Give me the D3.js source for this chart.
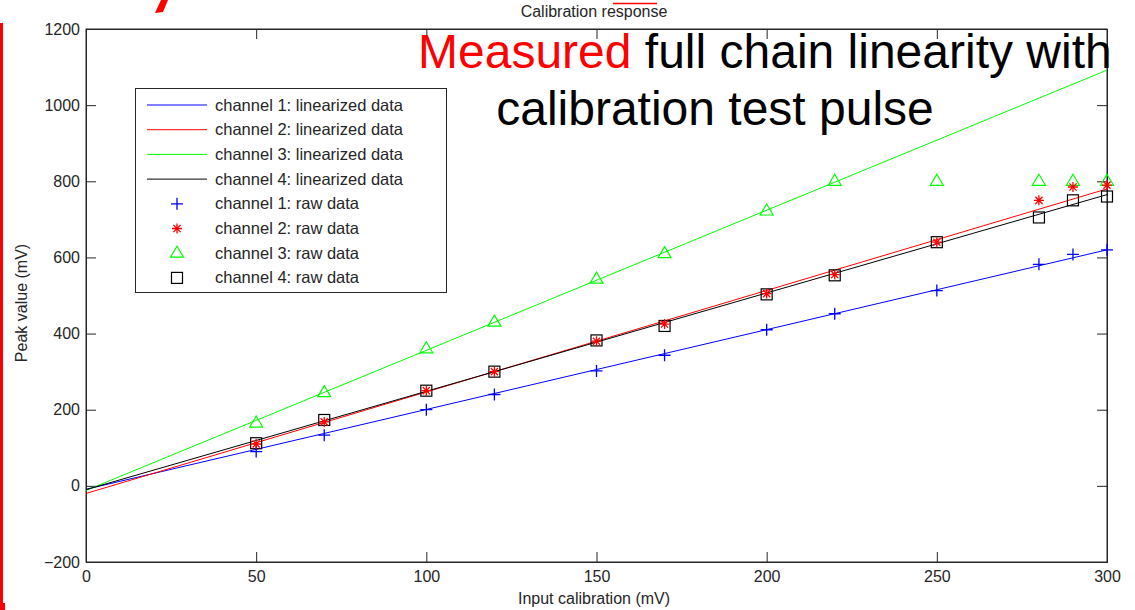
<!DOCTYPE html>
<html><head><meta charset="utf-8">
<script src="https://cdn.jsdelivr.net/npm/d3@7"></script>
<style>
body{margin:0;background:#fff;}
svg{display:block;}
text{font-family:"Liberation Sans",Arial,Helvetica,sans-serif;}
</style></head>
<body><svg id="c" width="1135" height="610"></svg>
<script>
// ---- data ----
const inputs = [50, 70, 100, 120, 150, 170, 200, 220, 250, 280, 290, 300];
const ch1Raw = [90, 133, 200, 240, 302, 343, 410, 452, 513, 582, 608, 620];
const ch2Raw = [110, 168, 250, 300, 380, 425, 505, 555, 640, 750, 785, 790];
const ch3Raw = [165, 245, 360, 430, 543, 610, 722, 800, 800, 800, 800, 800];
const ch4Raw = [112, 173, 250, 300, 382, 420, 503, 553, 640, 705, 750, 760];
const linInputs = [0, 300];
const ch1Lin = [-9, 620];
const ch2Lin = [-20, 780];
const ch3Lin = [-12, 1092];
const ch4Lin = [-10, 765];
const xTicks = [0, 50, 100, 150, 200, 250, 300];
const yTicks = [-200, 0, 200, 400, 600, 800, 1000, 1200];
const legendLabels = ["channel 1: linearized data","channel 2: linearized data","channel 3: linearized data","channel 4: linearized data",
  "channel 1: raw data","channel 2: raw data","channel 3: raw data","channel 4: raw data"];
const colors = ["#0000ff","#ff0000","#00ff00","#000000"];
const markers = ["plus","star","triangle","square"];

const svg = d3.select("#c");
const L = 86, R = 1107, T = 29, B = 562;
const x = d3.scaleLinear().domain([0, 300]).range([L, R]);
const y = d3.scaleLinear().domain([-200, 1200]).range([B, T]);
const axisCol = "#262626", txtCol = "#262626";

// decorative red bits (slide background)
svg.append("rect").attr("x",0).attr("y",23).attr("width",3).attr("height",587).attr("fill","#ff0000");
svg.append("rect").attr("x",0).attr("y",603).attr("width",5).attr("height",7).attr("fill","#ff0000");
svg.append("path").attr("d","M161,0 L168,0 L163,12 L155,13 Z").attr("fill","#ff0000");

// axes
function styleAxis(g){ g.select(".domain").attr("stroke",axisCol); g.selectAll(".tick line").attr("stroke",axisCol); g.selectAll(".tick text").attr("fill",txtCol).style("font-size","16px").style("font-family","'Liberation Sans',Arial,sans-serif"); }
svg.append("g").attr("transform",`translate(0,${B})`)
  .call(d3.axisBottom(x).tickValues(xTicks).tickSize(-10).tickPadding(6).tickFormat(d3.format("d")))
  .call(styleAxis).call(g=>g.selectAll(".tick text").attr("dy","0.95em").attr("y",5));
svg.append("g").attr("transform",`translate(0,${T})`)
  .call(d3.axisTop(x).tickValues(xTicks).tickSize(-10).tickFormat(""))
  .call(styleAxis);
svg.append("g").attr("transform",`translate(${L},0)`)
  .call(d3.axisLeft(y).tickValues(yTicks).tickSize(-10).tickPadding(7).tickFormat(d3.format("d")))
  .call(styleAxis).call(g=>g.selectAll(".tick text").attr("x",-6));
svg.append("g").attr("transform",`translate(${R},0)`)
  .call(d3.axisRight(y).tickValues(yTicks).tickSize(-10).tickFormat(""))
  .call(styleAxis);
svg.selectAll(".domain").attr("stroke-width",1);
svg.append("rect").attr("x",L).attr("y",T).attr("width",R-L).attr("height",B-T).attr("fill","none").attr("stroke",axisCol);

// title & labels
svg.append("text").attr("x",594).attr("y",17).attr("text-anchor","middle").attr("fill",txtCol).style("font-size","16px").text("Calibration response");
svg.append("line").attr("x1",613).attr("x2",657).attr("y1",3.5).attr("y2",3.5).attr("stroke","#ff0000").attr("stroke-width",1.5);
svg.append("text").attr("transform","translate(27,303) rotate(-90)").attr("text-anchor","middle").attr("fill",txtCol).style("font-size","16px").text("Peak value (mV)");
svg.append("text").attr("x",594).attr("y",604).attr("text-anchor","middle").attr("fill",txtCol).style("font-size","16px").text("Input calibration (mV)");

// lines
const lineData = [ch1Lin, ch2Lin, ch3Lin, ch4Lin];
const line = d3.line().x(d=>x(d[0])).y(d=>y(d[1]));
lineData.forEach((vals,i)=>{
  svg.append("path").datum(linInputs.map((v,j)=>[v, vals[j]]))
    .attr("d",line).attr("fill","none").attr("stroke",colors[i]).attr("stroke-width",1);
});

// markers
function drawMarker(g, type, cx, cy, col){
  if(type==="plus"){
    g.append("path").attr("d",`M${cx-6},${cy}H${cx+6}M${cx},${cy-6}V${cy+6}`).attr("stroke",col).attr("stroke-width",1.3).attr("fill","none");
  } else if(type==="star"){
    const r=5, d=3.6;
    g.append("path").attr("d",`M${cx-r},${cy}H${cx+r}M${cx},${cy-r}V${cy+r}M${cx-d},${cy-d}L${cx+d},${cy+d}M${cx-d},${cy+d}L${cx+d},${cy-d}`).attr("stroke",col).attr("stroke-width",1.3).attr("fill","none");
  } else if(type==="triangle"){
    g.append("path").attr("d",`M${cx},${cy-7}L${cx+6.5},${cy+4}L${cx-6.5},${cy+4}Z`).attr("stroke",col).attr("stroke-width",1.2).attr("fill","none");
  } else {
    g.append("rect").attr("x",cx-5.5).attr("y",cy-5.5).attr("width",11).attr("height",11).attr("stroke",col).attr("stroke-width",1.2).attr("fill","none");
  }
}
const rawData = [ch1Raw, ch2Raw, ch3Raw, ch4Raw];
const mg = svg.append("g");
[3,2,0,1].forEach(i=>{
  inputs.forEach((v,j)=> drawMarker(mg, markers[i], x(v), y(rawData[i][j]), colors[i]));
});

// legend
const lg = svg.append("g");
lg.append("rect").attr("x",135.5).attr("y",88.5).attr("width",311).attr("height",204).attr("fill","#fff").attr("stroke",axisCol);
legendLabels.forEach((t,i)=>{
  const yy = 105 + i*24.7;
  if(i<4){
    lg.append("line").attr("x1",147).attr("x2",207).attr("y1",yy).attr("y2",yy).attr("stroke",colors[i]).attr("stroke-width",1);
  } else {
    drawMarker(lg, markers[i-4], 177, yy, colors[i-4]);
  }
  lg.append("text").attr("x",215).attr("y",yy+5.5).attr("fill",txtCol).style("font-size","16.5px").text(t);
});

// overlaid slide annotation
const ann = svg.append("text").attr("x",418).attr("y",68).style("font-size","48px").attr("fill","#000");
ann.append("tspan").attr("fill","#ff0000").text("Measured");
ann.append("tspan").text(" full chain linearity with");
svg.append("text").attr("x",715).attr("y",125).attr("text-anchor","middle").style("font-size","48px").attr("fill","#000").text("calibration test pulse");
</script></body></html>
